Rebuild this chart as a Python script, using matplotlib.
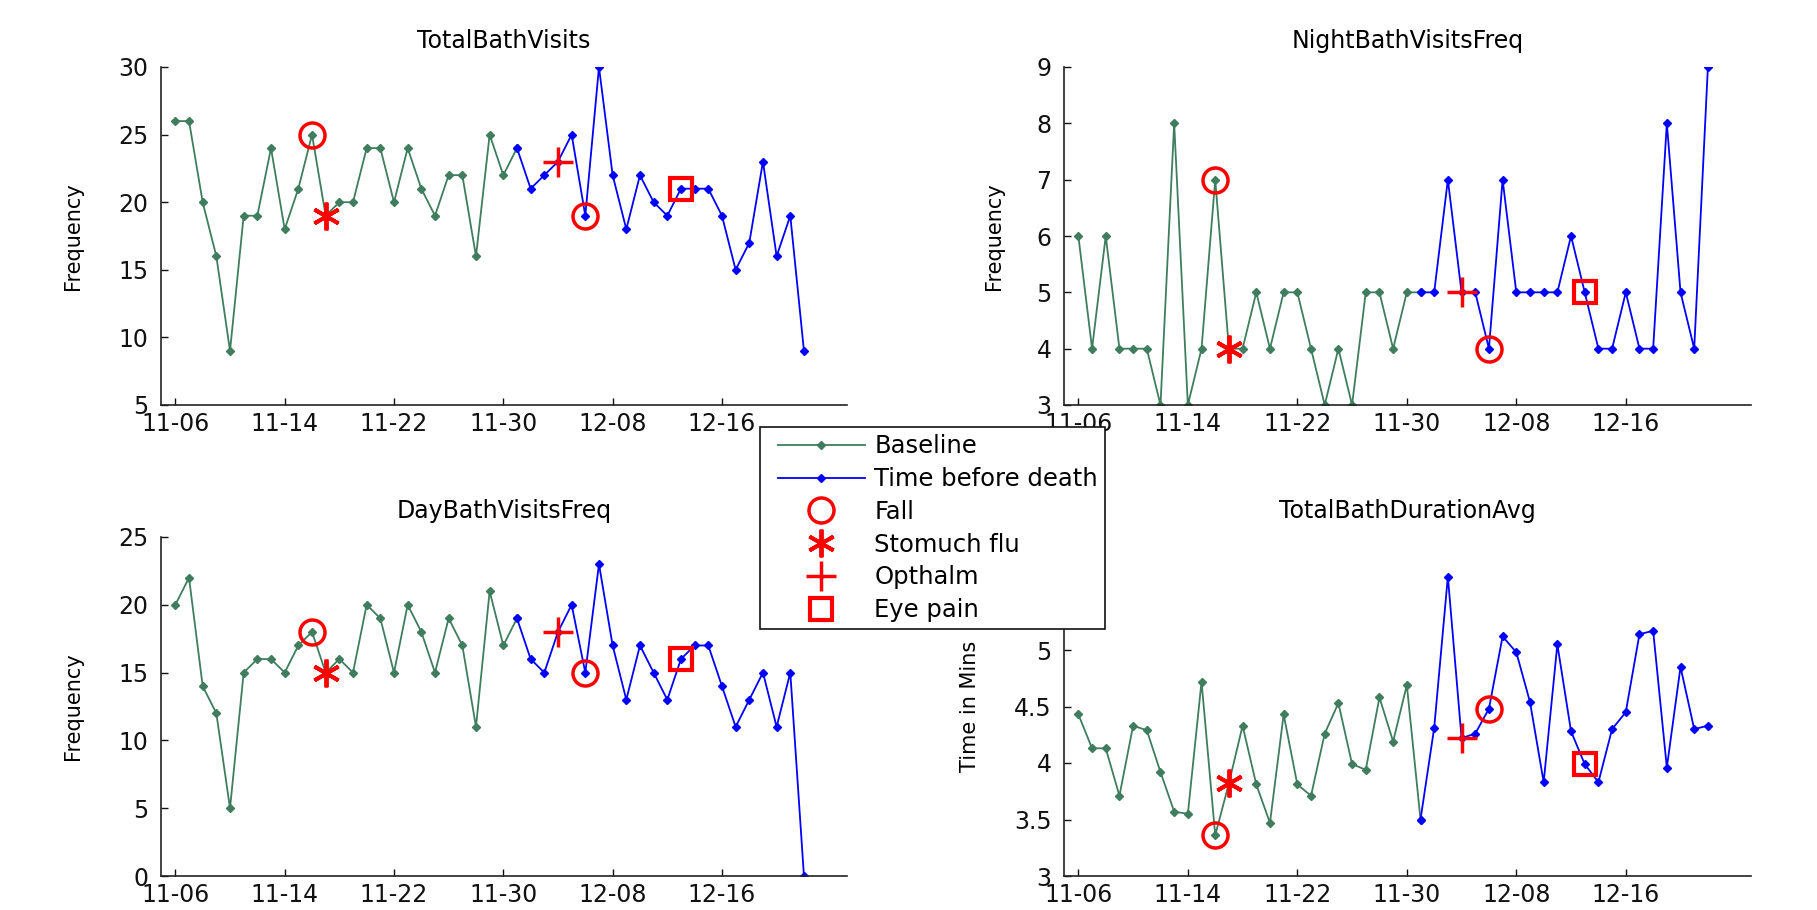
import numpy as np
import pandas as pd
import matplotlib
matplotlib.use("Agg")
import matplotlib.pyplot as plt
from matplotlib.ticker import FormatStrFormatter
from matplotlib.lines import Line2D
from matplotlib.legend_handler import HandlerLine2D

# --- data (one value per day, 11-06 .. 12-22) ---
days = np.arange(47)
split = 25  # baseline covers days 0..25, time before death 25..46

total_visits = [26, 26, 20, 16, 9, 19, 19, 24, 18, 21, 25, 19, 20, 20, 24, 24,
                20, 24, 21, 19, 22, 22, 16, 25, 22, 24, 21, 22, 23, 25, 19, 30,
                22, 18, 22, 20, 19, 21, 21, 21, 19, 15, 17, 23, 16, 19, 9]
night_visits = [6, 4, 6, 4, 4, 4, 3, 8, 3, 4, 7, 4, 4, 5, 4, 5, 5, 4, 3, 4, 3,
                5, 5, 4, 5, 5, 5, 7, 5, 5, 4, 7, 5, 5, 5, 5, 6, 5, 4, 4, 5, 4,
                4, 8, 5, 4, 9]
day_visits = [20, 22, 14, 12, 5, 15, 16, 16, 15, 17, 18, 15, 16, 15, 20, 19,
              15, 20, 18, 15, 19, 17, 11, 21, 17, 19, 16, 15, 18, 20, 15, 23,
              17, 13, 17, 15, 13, 16, 17, 17, 14, 11, 13, 15, 11, 15, 0]
duration_avg = [4.43, 4.13, 4.13, 3.71, 4.33, 4.29, 3.92, 3.57, 3.55, 4.72,
                3.36, 3.82, 4.33, 3.81, 3.47, 4.43, 3.81, 3.71, 4.26, 4.53,
                3.99, 3.94, 4.58, 4.19, 4.69, 3.50, 4.31, 5.65, 4.22, 4.26,
                4.48, 5.12, 4.98, 4.54, 3.83, 5.05, 4.28, 3.99, 3.83, 4.30,
                4.45, 5.14, 5.17, 3.96, 4.85, 4.30, 4.33]

# event days (index into the daily series)
fall_days = [10, 30]
flu_days = [11]
opthalm_days = [28]
eyepain_days = [37]

tick_days = [0, 8, 16, 24, 32, 40]
tick_labels = ["11-06", "11-14", "11-22", "11-30", "12-08", "12-16"]

panels = [
    ("TotalBathVisits", total_visits, "Frequency", (5, 30), np.arange(5, 31, 5)),
    ("NightBathVisitsFreq", night_visits, "Frequency", (3, 9), np.arange(3, 10, 1)),
    ("DayBathVisitsFreq", day_visits, "Frequency", (0, 25), np.arange(0, 26, 5)),
    ("TotalBathDurationAvg", duration_avg, "Time in Mins", (3, 6), np.arange(3, 6.01, 0.5)),
]

GREEN = "#3f7d5e"
BLUE = "#0000ff"
RED = "#ff0000"

plt.rcParams["font.family"] = ["DejaVu Sans"]

fig = plt.figure(figsize=(18.17, 9.10), dpi=100)
W, H = 1817.0, 910.0
boxes = [(161, 67, 847, 405), (1064, 67, 1751, 405),
         (161, 537, 847, 876), (1064, 537, 1751, 876)]
ylab_x = [-0.114, -0.088, -0.114, -0.122]

handles = None
for i, (title, vals, ylab, ylim, yticks) in enumerate(panels):
    l, t, r, b = boxes[i]
    ax = fig.add_axes([l / W, 1 - b / H, (r - l) / W, (b - t) / H])
    vals = np.asarray(vals, dtype=float)

    h1, = ax.plot(days[:split + 1], vals[:split + 1], "-D", color=GREEN, lw=1.3,
                  ms=4.5, mec=GREEN, mfc=GREEN)
    h2, = ax.plot(days[split:], vals[split:], "-D", color=BLUE, lw=1.3,
                  ms=4.5, mec=BLUE, mfc=BLUE)
    h3, = ax.plot(fall_days, vals[fall_days], "o", ls="none", ms=18, mfc="none",
                  mec=RED, mew=2.5)
    h4, = ax.plot(flu_days, vals[flu_days], marker=(6, 2, 0), ls="none", ms=20,
                  mec=RED, mew=2.8)
    h5, = ax.plot(opthalm_days, vals[opthalm_days], "+", ls="none", ms=21,
                  mec=RED, mew=2.5)
    h6, = ax.plot(eyepain_days, vals[eyepain_days], "s", ls="none", ms=16,
                  mfc="none", mec=RED, mew=3)
    if handles is None:
        handles = [h1, h2, h3, h4, h5, h6]

    ax.set_xlim(-1.05, 49.15)
    ax.set_ylim(*ylim)
    ax.set_xticks(tick_days)
    ax.set_xticklabels(tick_labels)
    ax.set_yticks(yticks)
    ax.yaxis.set_major_formatter(FormatStrFormatter("%g"))
    ax.tick_params(direction="in", length=5, width=1, labelsize=17,
                   colors="#111111", top=False, right=False)
    ax.tick_params(axis="x", pad=5)
    ax.tick_params(axis="y", pad=9)
    for s in ("top", "right"):
        ax.spines[s].set_visible(False)
    for s in ("left", "bottom"):
        ax.spines[s].set_linewidth(1.2)
        ax.spines[s].set_color("#222222")
    ax.set_title(title, fontsize=17, pad=14)
    ax.set_ylabel(ylab, fontsize=15)
    ax.yaxis.set_label_coords(ylab_x[i], 0.5)

labels = ["Baseline", "Time before death", "Fall", "Stomuch flu", "Opthalm", "Eye pain"]
leg = fig.legend(handles, labels, loc="upper left",
                 bbox_to_anchor=(760 / W, 1 - 427 / H), borderaxespad=0,
                 fontsize=17.5, handlelength=4.0, handletextpad=0.4,
                 labelspacing=0.36, borderpad=0.3, fancybox=False,
                 framealpha=1, edgecolor="#111111",
                 handler_map={Line2D: HandlerLine2D(xpad=0.45)})
leg.get_frame().set_linewidth(1.2)
for lh in leg.legend_handles[:2]:
    lh.set_markersize(4.5)

fig.savefig("out.png", dpi=100, facecolor="white")
